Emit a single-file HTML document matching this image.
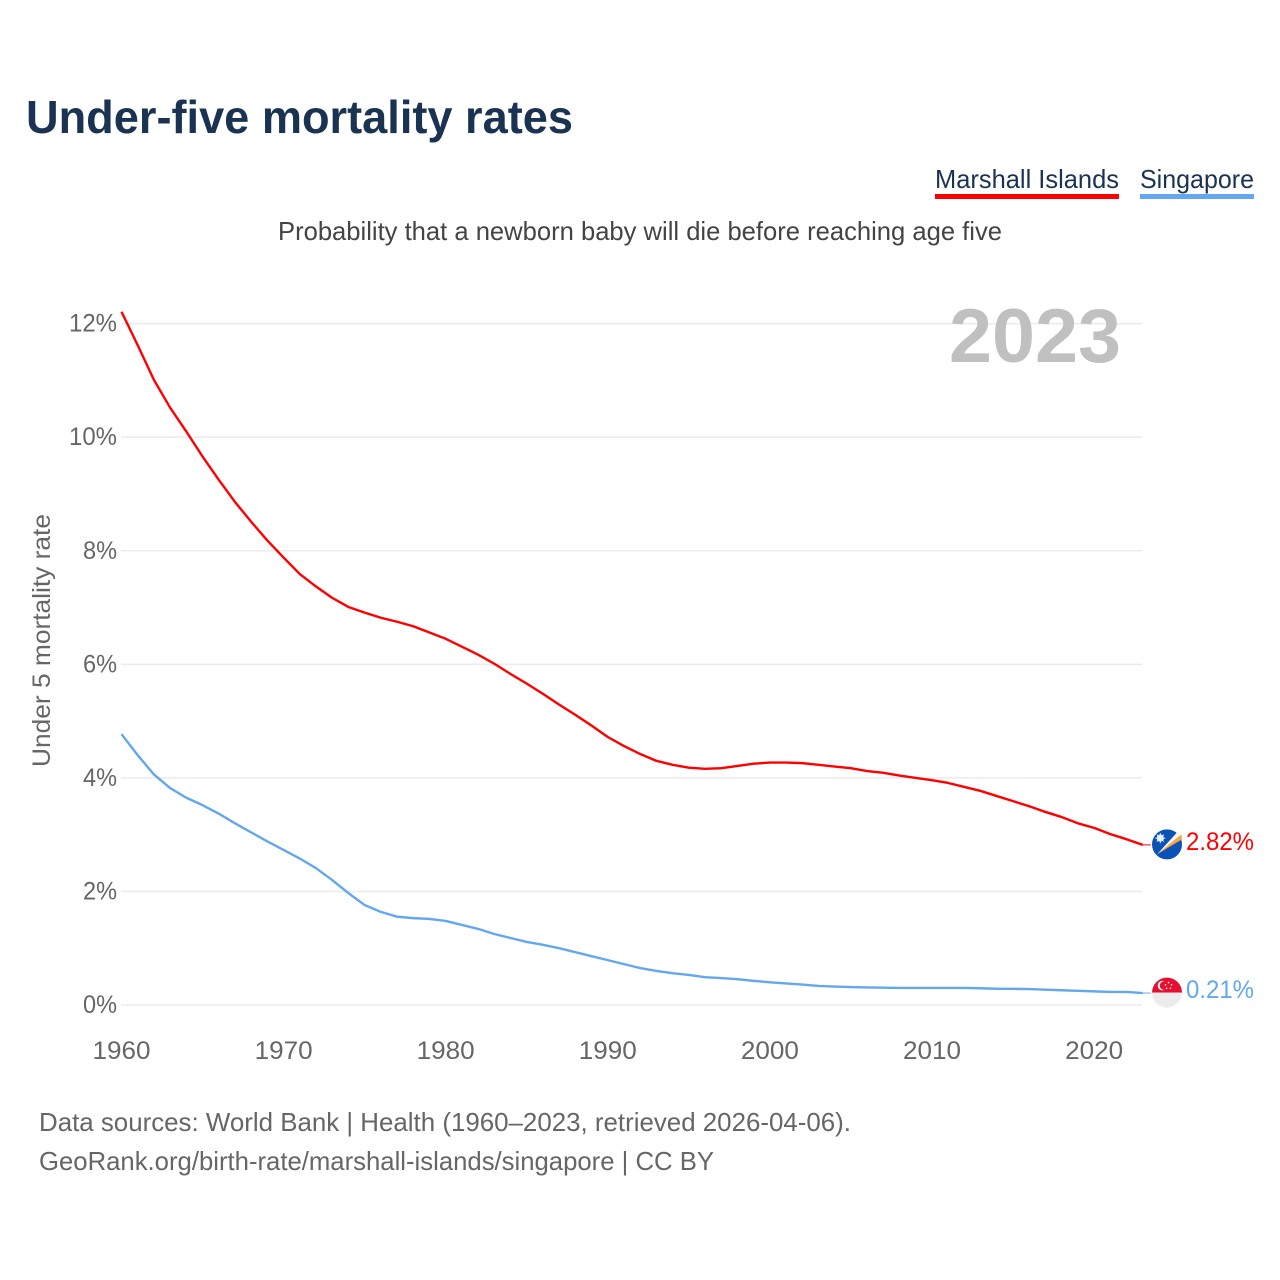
<!DOCTYPE html>
<html lang="en">
<head>
<meta charset="utf-8">
<title>Under-five mortality rates</title>
<style>
html,body{margin:0;padding:0;background:#fff;}
svg{display:block;}
text{font-family:"Liberation Sans",sans-serif;}
</style>
</head>
<body>
<svg id="chart" width="1280" height="1280" viewBox="0 0 1280 1280" xmlns="http://www.w3.org/2000/svg">
  <rect width="1280" height="1280" fill="#fff"/>
  <text x="26" y="133" font-size="46" font-weight="700" fill="#1a3352" textLength="547" lengthAdjust="spacingAndGlyphs">Under-five mortality rates</text>
  <g>
    <text x="935" y="188" font-size="26" fill="#1a3352" textLength="184" lengthAdjust="spacingAndGlyphs">Marshall Islands</text>
    <rect x="935" y="194" width="184" height="5" fill="#ff0000"/>
  </g>
  <g>
    <text x="1140" y="188" font-size="26" fill="#1a3352" textLength="114" lengthAdjust="spacingAndGlyphs">Singapore</text>
    <rect x="1140" y="194" width="114" height="5" fill="#63a7ef"/>
  </g>
  <text x="278" y="240" font-size="26" fill="#444" textLength="724" lengthAdjust="spacingAndGlyphs">Probability that a newborn baby will die before reaching age five</text>
  <text transform="translate(50,767) rotate(-90)" font-size="25" fill="#666" textLength="253" lengthAdjust="spacingAndGlyphs">Under 5 mortality rate</text>
  <g id="grid"></g>
  <g id="yticks"></g>
  <g id="xticks"></g>
  <text x="949" y="362" font-size="76" font-weight="700" fill="#c0c0c0" textLength="172" lengthAdjust="spacingAndGlyphs">2023</text>
  <g id="series"></g>
  <g id="flag-mh">
    <circle cx="0" cy="0" r="15" fill="#0a52b5"/>
    <path d="M-10 10 L14.5 -10 L15 -5 Z" fill="#f9a63a"/>
    <path d="M-10 10 L10.5 -12.5 L14.5 -10 Z" fill="#f4f4f4"/>
    <circle cx="-6.7" cy="-6.3" r="3.6" fill="#e8f0fa"/>
    <path d="M-6.7 -11.3 V-1.3 M-11.7 -6.3 H-1.7 M-10.2 -9.8 L-3.2 -2.8 M-3.2 -9.8 L-10.2 -2.8" stroke="#e8f0fa" stroke-width="1"/>
  </g>
  <g id="flag-sg">
    <path d="M-15 0 A15 15 0 0 1 15 0 Z" fill="#e60f2f"/>
    <path d="M-15 0 A15 15 0 0 0 15 0 Z" fill="#ececec"/>
    <circle cx="-4.5" cy="-7" r="4.8" fill="#fff"/>
    <circle cx="-2.8" cy="-7" r="4.4" fill="#e60f2f"/>
    <circle cx="1.5" cy="-10" r="0.8" fill="#fff"/>
    <circle cx="4.5" cy="-7.8" r="0.8" fill="#fff"/>
    <circle cx="3.4" cy="-4.3" r="0.8" fill="#fff"/>
    <circle cx="-0.4" cy="-4.3" r="0.8" fill="#fff"/>
    <circle cx="-1.5" cy="-7.8" r="0.8" fill="#fff"/>
  </g>
  <text x="39" y="1131" font-size="26" fill="#666" textLength="812" lengthAdjust="spacingAndGlyphs">Data sources: World Bank | Health (1960–2023, retrieved 2026-04-06).</text>
  <text x="39" y="1170" font-size="26" fill="#666" textLength="675" lengthAdjust="spacingAndGlyphs">GeoRank.org/birth-rate/marshall-islands/singapore | CC BY</text>
</svg>
<script>
const startYear = 1960;
const xTickYears = [1960, 1970, 1980, 1990, 2000, 2010, 2020];
const yTickValues = [0, 2, 4, 6, 8, 10, 12];
const marshallIslands = [12.21, 11.62, 11.01, 10.52, 10.10, 9.66, 9.25, 8.86, 8.51, 8.18,
  7.88, 7.59, 7.37, 7.17, 7.01, 6.91, 6.82, 6.75, 6.67, 6.56,
  6.45, 6.31, 6.17, 6.01, 5.83, 5.66, 5.48, 5.29, 5.11, 4.92,
  4.72, 4.56, 4.42, 4.30, 4.23, 4.18, 4.16, 4.17, 4.21, 4.25,
  4.27, 4.27, 4.26, 4.23, 4.20, 4.17, 4.12, 4.09, 4.04, 4.00,
  3.96, 3.91, 3.84, 3.77, 3.68, 3.59, 3.50, 3.40, 3.31, 3.20,
  3.12, 3.01, 2.92, 2.82];
const singapore = [4.77, 4.40, 4.06, 3.82, 3.65, 3.52, 3.37, 3.20, 3.04, 2.88,
  2.73, 2.58, 2.41, 2.20, 1.97, 1.76, 1.64, 1.555, 1.53, 1.515,
  1.48, 1.41, 1.34, 1.25, 1.18, 1.11, 1.06, 1.00, 0.93, 0.86,
  0.79, 0.72, 0.65, 0.60, 0.56, 0.53, 0.49, 0.475, 0.455, 0.425,
  0.40, 0.38, 0.36, 0.335, 0.325, 0.315, 0.31, 0.305, 0.30, 0.30,
  0.30, 0.30, 0.30, 0.295, 0.285, 0.285, 0.28, 0.27, 0.26, 0.25,
  0.24, 0.23, 0.23, 0.21];

const NS = 'http://www.w3.org/2000/svg';
const xScale = function (year) { return 121.5 + (year - startYear) * 16.21; };
const yScale = function (v) { return 1005 - v * 56.78; };
const gridEl = document.getElementById('grid');
const yTicksEl = document.getElementById('yticks');
const xTicksEl = document.getElementById('xticks');
const seriesEl = document.getElementById('series');
const svgEl = document.getElementById('chart');

function makeText(parent, str, x, y, size, fill, anchor, width) {
  const t = document.createElementNS(NS, 'text');
  t.setAttribute('x', x);
  t.setAttribute('y', y);
  t.setAttribute('font-size', size);
  t.setAttribute('fill', fill);
  t.setAttribute('text-anchor', anchor);
  t.setAttribute('textLength', width);
  t.setAttribute('lengthAdjust', 'spacingAndGlyphs');
  t.textContent = str;
  parent.appendChild(t);
  return t;
}

yTickValues.forEach(function (v) {
  const line = document.createElementNS(NS, 'line');
  
  
  line.setAttribute('x1', 121);
  line.setAttribute('x2', 1142);
  line.setAttribute('y1', yScale(v));
  line.setAttribute('y2', yScale(v));
  line.setAttribute('stroke', '#ececec');
  line.setAttribute('stroke-width', 1.6);
  gridEl.appendChild(line);
  const label = makeText(yTicksEl, v + '%', 117, yScale(v) + 8, 25, '#666', 'end', v >= 10 ? 48 : 34);
  
  
});

xTickYears.forEach(function (yr) {
  const label = makeText(xTicksEl, String(yr), xScale(yr), 1059, 25, '#666', 'middle', 58);
  
  
});

function drawSeries(values, color, flagId, name) {
  let d = '';
  values.forEach(function (v, i) {
    d += (i ? 'L' : 'M') + xScale(startYear + i).toFixed(2) + ' ' + yScale(v).toFixed(2);
  });
  const path = document.createElementNS(NS, 'path');
  
  
  path.setAttribute('d', d);
  path.setAttribute('fill', 'none');
  path.setAttribute('stroke', color);
  path.setAttribute('stroke-width', 2.4);
  path.setAttribute('stroke-linejoin', 'round');
  seriesEl.appendChild(path);

  const last = values[values.length - 1];
  const ly = yScale(last);
  const lx = xScale(startYear + values.length - 1);
  const conn = document.createElementNS(NS, 'line');
  
  
  conn.setAttribute('x1', lx);
  conn.setAttribute('x2', lx + 8);
  conn.setAttribute('y1', ly);
  conn.setAttribute('y2', ly);
  conn.setAttribute('stroke', color);
  conn.setAttribute('stroke-width', 1);
  seriesEl.appendChild(conn);

  document.getElementById(flagId).setAttribute('transform', 'translate(1167,' + (ly - 0.5) + ')');
  const endLabel = makeText(svgEl, last.toFixed(2) + '%', 1254, ly + 5, 25, color, 'end', 68);
  
  
}

drawSeries(marshallIslands, '#ff0000', 'flag-mh', 'marshall-islands');
drawSeries(singapore, '#63a7ef', 'flag-sg', 'singapore');
</script>
</body>
</html>
